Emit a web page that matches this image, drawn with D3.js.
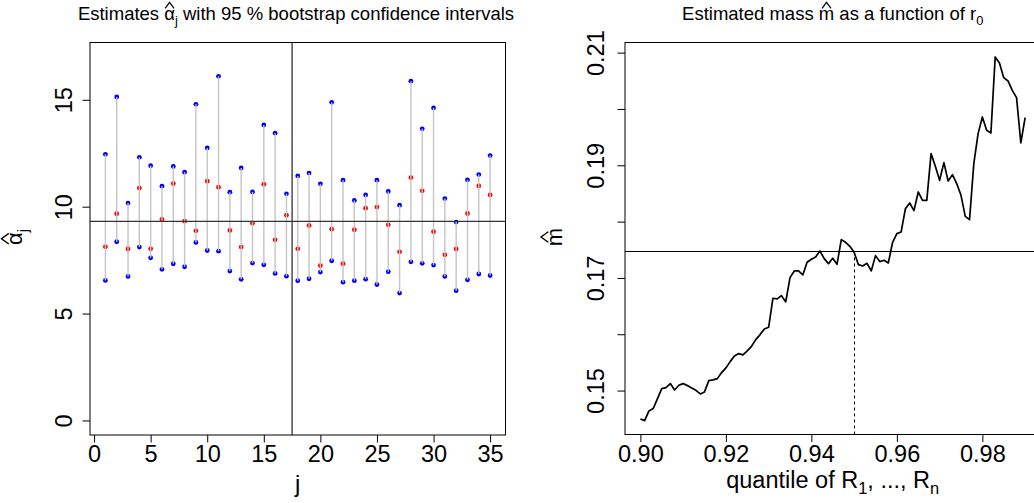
<!DOCTYPE html>
<html>
<head>
<meta charset="utf-8">
<script src="https://cdn.jsdelivr.net/npm/d3@7"></script>
<style>
body{margin:0;background:#fff}
svg{display:block;background:#fff}
text{font-family:"Liberation Sans",Arial,Helvetica,sans-serif;fill:#000}
</style>
</head>
<body>
<div id="chart"></div>
<script>

// ---- data: left panel (estimates and bootstrap intervals)
var jVals=[1,2,3,4,5,6,7,8,9,10,11,12,13,14,15,16,17,18,19,20,21,22,23,24,25,26,27,28,29,30,31,32,33,34,35];
var alphaHat=[8.12,9.67,8.02,10.87,8.03,9.40,11.08,9.32,8.87,11.19,10.91,8.89,8.11,9.23,11.05,8.45,9.60,8.03,
  9.12,7.24,8.95,7.33,8.92,9.93,9.98,9.15,7.89,11.36,10.74,8.83,7.75,8.02,9.68,10.97,10.55];
var ciLower=[6.55,8.36,6.74,8.11,7.61,7.07,7.33,7.19,8.33,7.95,7.92,6.99,6.60,7.36,7.28,6.88,6.75,6.54,
  6.63,6.94,7.47,6.47,6.54,6.61,6.36,6.96,5.96,7.42,7.35,7.27,6.74,6.07,6.58,6.85,6.78];
var ciUpper=[12.45,15.13,10.17,12.31,11.92,10.96,11.88,11.61,14.79,12.75,16.10,10.68,11.81,10.69,13.82,13.44,10.60,11.44,
  11.57,11.07,14.88,11.24,10.29,10.55,11.24,10.71,10.07,15.87,13.64,14.62,10.38,9.28,11.25,11.50,12.39];
var alphaRef=9.31, jRef=17.5;
var jTicks=[0,5,10,15,20,25,30,35];
var alphaTicks=[0,5,10,15];

// ---- data: right panel (estimated mass vs quantile)
var quantiles=[0.900,0.901,0.902,0.903,0.904,0.905,0.906,0.907,0.908,0.909,
  0.910,0.911,0.912,0.913,0.914,0.915,0.916,0.917,0.918,0.919,
  0.920,0.921,0.922,0.923,0.924,0.925,0.926,0.927,0.928,0.929,
  0.930,0.931,0.932,0.933,0.934,0.935,0.936,0.937,0.938,0.939,
  0.940,0.941,0.942,0.943,0.944,0.945,0.946,0.947,0.948,0.949,
  0.950,0.951,0.952,0.953,0.954,0.955,0.956,0.957,0.958,0.959,
  0.960,0.961,0.962,0.963,0.964,0.965,0.966,0.967,0.968,0.969,
  0.970,0.971,0.972,0.973,0.974,0.975,0.976,0.977,0.978,0.979,
  0.980,0.981,0.982,0.983,0.984,0.985,0.986,0.987,0.988,0.989,0.990];
var massHat=[0.14496,0.14467,0.14638,0.14680,0.14857,0.15035,0.15053,0.15124,0.15011,0.15094,
  0.15124,0.15088,0.15047,0.15005,0.14940,0.14976,0.15177,0.15189,0.15212,0.15319,
  0.15402,0.15514,0.15615,0.15656,0.15633,0.15704,0.15786,0.15905,0.15994,0.16094,
  0.16124,0.16639,0.16627,0.16686,0.16573,0.17006,0.17124,0.17124,0.17053,0.17278,
  0.17331,0.17372,0.17479,0.17343,0.17254,0.17349,0.17242,0.17680,0.17633,0.17562,
  0.17455,0.17236,0.17212,0.17260,0.17124,0.17396,0.17290,0.17313,0.17266,0.17633,
  0.17787,0.17816,0.18230,0.18331,0.18195,0.18526,0.18378,0.18378,0.19207,0.18982,
  0.18733,0.19047,0.18721,0.18834,0.18674,0.18467,0.18094,0.18035,0.19029,0.19562,
  0.19858,0.19621,0.19574,0.20923,0.20816,0.20556,0.20497,0.20331,0.20201,0.19396,0.19846];
var massRef=0.1747, qRef=0.95;
var qTicks=[0.90,0.92,0.94,0.96,0.98];
var massTicks=[0.15,0.16,0.17,0.18,0.19,0.20,0.21];
var massTickLabels=[0.15,0.17,0.19,0.21];


var W=1034,H=503,tickLen=7.5,tickFont=23.5,labFont=24,titleFont=18.5;

var svg=d3.select("#chart").append("svg")
    .attr("width",W)
    .attr("height",H);

// text with optional hats and subscripts (parts: {t, hat, sub})
function mathText(parent,x,y,size,parts){
  var txt=parent.append("text")
    .attr("x",x).attr("y",y)
    .attr("text-anchor","middle")
    .style("font-size",size+"px");
  var shift=0.28*size, idx=0, hats=[];
  parts.forEach(function(p){
    var ts=txt.append("tspan").text(p.t);
    if(p.sub){
      ts.attr("dy",shift).style("font-size",(0.7*size)+"px");
    }else if(p.after){
      ts.attr("dy",-shift);
    }
    if(p.hat) hats.push(idx);
    idx+=p.t.length;
  });
  hats.forEach(function(i){
    var e=txt.node().getExtentOfChar(i);
    var cx=e.x+e.width/2, hw=0.24*size;
    parent.append("path")
      .attr("d","M"+(cx-hw)+","+(y-0.6*size)+"L"+cx+","+(y-0.93*size)+"L"+(cx+hw)+","+(y-0.6*size))
      .attr("fill","none")
      .attr("stroke","#000")
      .attr("stroke-width",0.065*size);
  });
  return txt;
}

function styleAxis(g){
  g.select(".domain").remove();
  g.selectAll(".tick line").attr("stroke","#000").attr("stroke-width",1);
  g.selectAll(".tick text").style("font-size",tickFont+"px").attr("fill","#000")
    .style("font-family",'"Liberation Sans",Arial,Helvetica,sans-serif');
}

function rotateYLabels(g,off){
  g.selectAll(".tick text")
    .attr("x",0).attr("dy",null).attr("y",-off)
    .attr("text-anchor","middle")
    .attr("transform","rotate(-90)");
}

// ================= left panel =================
var xL=d3.scaleLinear().domain([-0.36,36.36]).range([90,505.5]);
var yL=d3.scaleLinear().domain([-0.68,17.68]).range([435,42.5]);
var left=svg.append("g");

left.selectAll(".lo")
  .data(jVals)
  .enter()
  .append("circle")
  .attr("cx",function(d){return xL(d);})
  .attr("cy",function(d,i){return yL(ciLower[i]);})
  .attr("r",2.4)
  .attr("fill","#0000ff");

left.selectAll(".hi")
  .data(jVals)
  .enter()
  .append("circle")
  .attr("cx",function(d){return xL(d);})
  .attr("cy",function(d,i){return yL(ciUpper[i]);})
  .attr("r",2.4)
  .attr("fill","#0000ff");

left.selectAll(".est")
  .data(jVals)
  .enter()
  .append("circle")
  .attr("cx",function(d){return xL(d);})
  .attr("cy",function(d,i){return yL(alphaHat[i]);})
  .attr("r",2.4)
  .attr("fill","#ff0000");

// interval segments drawn over the points
left.selectAll(".ci")
  .data(jVals)
  .enter()
  .append("line")
  .attr("x1",function(d){return xL(d);})
  .attr("x2",function(d){return xL(d);})
  .attr("y1",function(d,i){return yL(ciLower[i]);})
  .attr("y2",function(d,i){return yL(ciUpper[i]);})
  .attr("stroke","#c4c4c4")
  .attr("stroke-width",1.4);

left.append("line")
  .attr("x1",xL.range()[0]).attr("x2",xL.range()[1])
  .attr("y1",yL(alphaRef)).attr("y2",yL(alphaRef))
  .attr("stroke","#333").attr("stroke-width",1.3);
left.append("line")
  .attr("x1",xL(jRef)).attr("x2",xL(jRef))
  .attr("y1",yL.range()[0]).attr("y2",yL.range()[1])
  .attr("stroke","#333").attr("stroke-width",1.3);

left.append("rect")
  .attr("x",xL.range()[0]).attr("y",yL.range()[1])
  .attr("width",xL.range()[1]-xL.range()[0])
  .attr("height",yL.range()[0]-yL.range()[1])
  .attr("fill","none").attr("stroke","#000").attr("stroke-width",1);

var gxL=left.append("g")
  .attr("transform","translate(0,"+yL.range()[0]+")")
  .call(d3.axisBottom(xL).tickValues(jTicks).tickSize(tickLen).tickFormat(d3.format("d")));
styleAxis(gxL);
gxL.selectAll(".tick text").attr("dy",null).attr("y",27);

var gyL=left.append("g")
  .attr("transform","translate("+xL.range()[0]+",0)")
  .call(d3.axisLeft(yL).tickValues(alphaTicks).tickSize(tickLen).tickFormat(d3.format("d")));
styleAxis(gyL);
rotateYLabels(gyL,18.5);

mathText(left,296,19.5,titleFont,[
  {t:"Estimates "},{t:"\u03b1",hat:true},{t:"j",sub:true},
  {t:" with 95 % bootstrap confidence intervals",after:true}]);

left.append("text")
  .attr("x",(xL.range()[0]+xL.range()[1])/2).attr("y",492)
  .attr("text-anchor","middle")
  .style("font-size",labFont+"px")
  .text("j");

var ylabL=left.append("g").attr("transform","translate(22,237) rotate(-90)");
mathText(ylabL,0,0,22,[{t:"\u03b1",hat:true},{t:"j",sub:true}]);

// ================= right panel =================
var xR=d3.scaleLinear().domain([0.8964,0.9936]).range([625,1040.5]);
var yR=d3.scaleLinear().domain([0.1422,0.2118]).range([434.5,42.5]);
var right=svg.append("g");

var line=d3.line()
  .x(function(d,i){return xR(quantiles[i]);})
  .y(function(d){return yR(d);});

right.append("path")
  .datum(massHat)
  .attr("d",line)
  .attr("fill","none")
  .attr("stroke","#000")
  .attr("stroke-width",1.7)
  .attr("stroke-linejoin","round");

right.append("line")
  .attr("x1",xR.range()[0]).attr("x2",xR.range()[1])
  .attr("y1",yR(massRef)).attr("y2",yR(massRef))
  .attr("stroke","#000").attr("stroke-width",1.1);
right.append("line")
  .attr("x1",Math.round(xR(qRef))+0.5).attr("x2",Math.round(xR(qRef))+0.5)
  .attr("y1",yR(massRef)).attr("y2",yR.range()[0])
  .attr("stroke","#000").attr("stroke-width",1)
  .attr("stroke-dasharray","3,3");

right.append("rect")
  .attr("x",xR.range()[0]).attr("y",yR.range()[1])
  .attr("width",xR.range()[1]-xR.range()[0])
  .attr("height",yR.range()[0]-yR.range()[1])
  .attr("fill","none").attr("stroke","#000").attr("stroke-width",1);

var gxR=right.append("g")
  .attr("transform","translate(0,"+yR.range()[0]+")")
  .call(d3.axisBottom(xR).tickValues(qTicks).tickSize(tickLen).tickFormat(d3.format(".2f")));
styleAxis(gxR);
gxR.selectAll(".tick text").attr("dy",null).attr("y",27);

var gyR=right.append("g")
  .attr("transform","translate("+xR.range()[0]+",0)")
  .call(d3.axisLeft(yR).tickValues(massTicks).tickSize(tickLen)
    .tickFormat(function(d){
      return massTickLabels.some(function(v){return Math.abs(v-d)<1e-9;})?d3.format(".2f")(d):"";
    }));
styleAxis(gyR);
rotateYLabels(gyR,21);

mathText(right,832.7,19.5,titleFont,[
  {t:"Estimated mass "},{t:"m",hat:true},{t:" as a function of r"},{t:"0",sub:true}]);

mathText(right,832.7,487.5,23.5,[
  {t:"quantile of R"},{t:"1",sub:true},{t:", ..., R",after:true},{t:"n",sub:true}]);

var ylabR=right.append("g").attr("transform","translate(561.5,237) rotate(-90)");
mathText(ylabR,0,0,22,[{t:"m",hat:true}]);

</script>
</body>
</html>
